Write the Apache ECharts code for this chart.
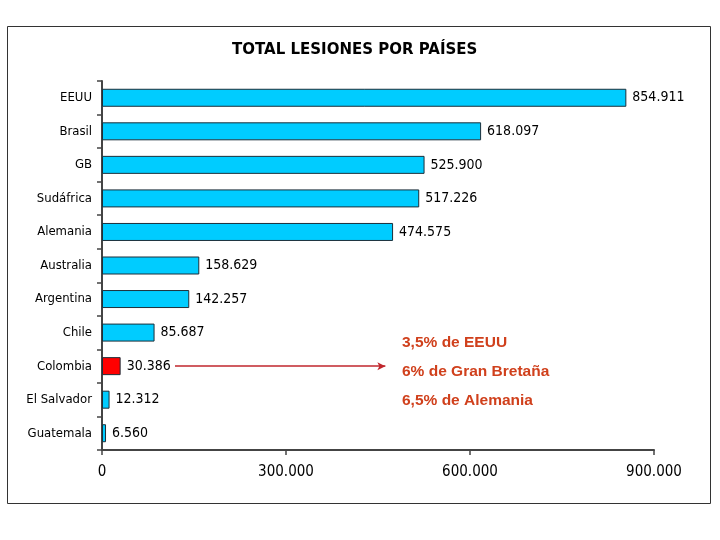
<!DOCTYPE html>
<html>
<head>
<meta charset="utf-8">
<script src="https://cdn.jsdelivr.net/npm/echarts@6/dist/echarts.min.js"></script>
<style>
  html, body { margin: 0; padding: 0; background: #fff; }
  .main { width: 720px; height: 540px; }
</style>
</head>
<body>
<div class="main"></div>
<script>
let chartDom = document.querySelector('.main');
let myChart = echarts.init(chartDom);

let paises = ['EEUU', 'Brasil', 'GB', 'Sudáfrica', 'Alemania', 'Australia', 'Argentina', 'Chile', 'Colombia', 'El Salvador', 'Guatemala'];
let lesiones = [854911, 618097, 525900, 517226, 474575, 158629, 142257, 85687, 30386, 12312, 6560];
let xTicks = [0, 300000, 600000, 900000];
let notas = ['3,5% de EEUU', '6% de Gran Bretaña', '6,5% de Alemania'];

// miles con punto, como en el original
function fmt(v) {
  return v === 0 ? '0' : v.toString().replace(/\B(?=(\d{3})+(?!\d))/g, '.');
}

let font = '"DejaVu Sans Condensed", "DejaVu Sans"';

let option = {
  backgroundColor: '#fff',
  animation: false,
  title: {
    text: 'TOTAL LESIONES POR PAÍSES',
    left: 232,
    top: 43,
    padding: 0,
    textStyle: { fontFamily: 'DejaVu Sans', fontSize: 15, fontWeight: 'bold', color: '#000' }
  },
  grid: { left: 102, right: 66, top: 81, bottom: 90 },
  xAxis: {
    type: 'value',
    min: xTicks[0],
    max: xTicks[xTicks.length - 1],
    interval: 300000,
    splitLine: { show: false },
    axisLine: { show: true, lineStyle: { color: '#444', width: 2 } },
    axisTick: { show: true, length: 5, lineStyle: { color: '#444', width: 1.5 } },
    axisLabel: { margin: 15, fontFamily: font, fontSize: 15, color: '#000', formatter: fmt }
  },
  yAxis: {
    type: 'category',
    inverse: true,
    data: paises,
    axisLine: { show: true, lineStyle: { color: '#444', width: 2 } },
    axisTick: { show: true, length: 5, lineStyle: { color: '#444', width: 1.5 } },
    axisLabel: { margin: 10, fontFamily: font, fontSize: 13, color: '#000' }
  },
  series: [{
    type: 'bar',
    barWidth: 18,
    data: lesiones.map((v, i) => ({
      value: v,
      itemStyle: { color: paises[i] === 'Colombia' ? '#ff0000' : '#00ccff' }
    })),
    itemStyle: { borderColor: '#1c2f3a', borderWidth: 1 },
    label: {
      show: true,
      position: 'right',
      distance: 6,
      fontFamily: font,
      fontSize: 14,
      color: '#000',
      formatter: p => fmt(p.value)
    },
    markLine: {
      silent: true,
      symbol: ['none', 'arrow'],
      symbolSize: [6, 8],
      label: { show: false },
      lineStyle: { color: '#c0262c', width: 1.5, type: 'solid' },
      data: [[{ coord: [119000, 'Colombia'] }, { coord: [462000, 'Colombia'] }]]
    }
  }],
  graphic: [
    {
      type: 'rect',
      shape: { x: 7.5, y: 26.5, width: 703, height: 477 },
      style: { fill: 'none', stroke: '#333', lineWidth: 1 },
      z: -1
    }
  ].concat(notas.map((t, i) => ({
    type: 'text',
    left: 402,
    top: 335 + i * 29,
    style: { text: t, fill: '#d0401c', fontFamily: 'Liberation Sans', fontSize: 15.5, fontWeight: 'bold' }
  })))
};

option && myChart.setOption(option);
</script>
</body>
</html>
